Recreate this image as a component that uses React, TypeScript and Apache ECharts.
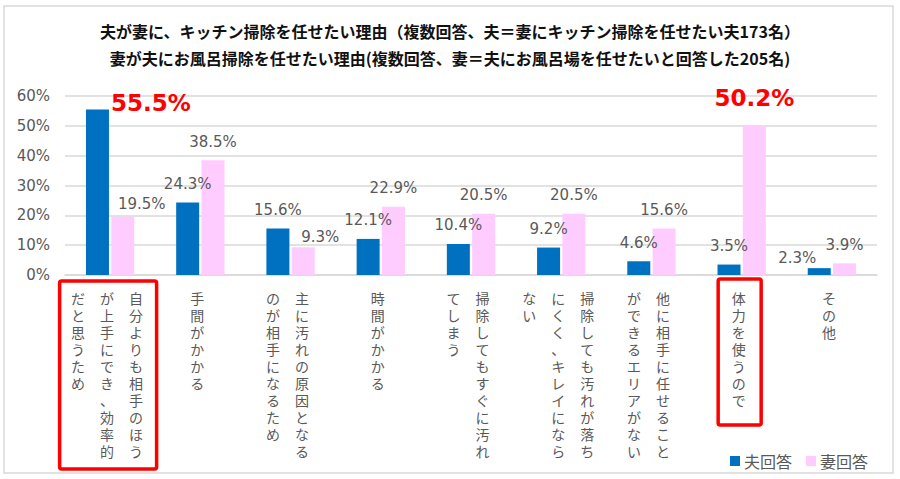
import React, { useEffect, useRef } from "react";
import * as echarts from "echarts";

const titleLines = [
  "夫が妻に、キッチン掃除を任せたい理由（複数回答、夫＝妻にキッチン掃除を任せたい夫173名）",
  "妻が夫にお風呂掃除を任せたい理由(複数回答、妻＝夫にお風呂場を任せたいと回答した205名)",
];

// each category: vertical columns, read right-to-left
const categoryColumns: string[][] = [
  ["自分よりも相手のほう", "が上手にでき、効率的", "だと思うため"],
  ["手間がかかる"],
  ["主に汚れの原因となる", "のが相手になるため"],
  ["時間がかかる"],
  ["掃除してもすぐに汚れ", "てしまう"],
  ["掃除しても汚れが落ち", "にくく、キレイになら", "ない"],
  ["他に相手に任せること", "ができるエリアがない"],
  ["体力を使うので"],
  ["その他"],
];

const seriesNames = ["夫回答", "妻回答"];
const husbandValues = [55.5, 24.3, 15.6, 12.1, 10.4, 9.2, 4.6, 3.5, 2.3];
const wifeValues = [19.5, 38.5, 9.3, 22.9, 20.5, 20.5, 15.6, 50.2, 3.9];
const yTicks = { min: 0, max: 60, interval: 10 };

const highlightHusband = 0;
const highlightWife = 7;
const boxedCategories = [0, 7];

const FONT = "'Noto Sans CJK JP', 'Noto Sans', sans-serif";
const LABELFONT = "'Liberation Sans', 'Noto Sans CJK JP', sans-serif";
const NUMFONT = "'DejaVu Sans', sans-serif";
const GRAY = "#595959";

const categoryKeys = categoryColumns.map((c) => c.join(""));

export default function App() {
  const ref = useRef<HTMLDivElement>(null);
  useEffect(() => {
    document.body.style.margin = "0";
    if (!ref.current) return;
    const chart = echarts.init(ref.current, undefined, { renderer: "svg" });

    const labelOffsets: Record<string, number[]> = {
      "w0": [19, 6],
      "w2": [17, 8],
      "h8": [-22, 8],
    };

    const husbandData = husbandValues.map((v, i) => {
      if (i === highlightHusband) {
        return {
          value: v,
          label: {
            position: ["100%", 0],
            align: "left",
            verticalAlign: "middle",
            offset: [2, -6],
            color: "#FF0000",
            fontSize: 23,
            fontWeight: "bold",
            fontFamily: NUMFONT,
          },
        };
      }
      const off = labelOffsets["h" + i];
      return off ? { value: v, label: { offset: off } } : v;
    });
    const wifeData = wifeValues.map((v, i) => {
      if (i === highlightWife) {
        return {
          value: v,
          label: {
            distance: 16,
            color: "#FF0000",
            fontSize: 23,
            fontWeight: "bold",
            fontFamily: NUMFONT,
          },
        };
      }
      const off = labelOffsets["w" + i];
      return off ? { value: v, label: { offset: off } } : v;
    });

    const valueLabel = {
      show: true,
      position: "top",
      distance: 11,
      color: GRAY,
      fontSize: 15,
      fontFamily: NUMFONT,
      formatter: (p: any) => `${p.value.toFixed(1)}%`,
    };

    chart.setOption({
      animation: false,
      textStyle: { fontFamily: FONT },
      title: {
        text: titleLines.join("\n"),
        left: "center",
        top: 12,
        textStyle: {
          fontSize: 16,
          fontWeight: "bold",
          color: "#111",
          lineHeight: 27,
          fontFamily: FONT,
        },
      },
      legend: {
        data: seriesNames,
        right: 27,
        top: 448,
        itemWidth: 10,
        itemHeight: 10,
        itemGap: 14,
        icon: "rect",
        textStyle: { color: GRAY, fontSize: 16, fontFamily: FONT, padding: [0, 0, 0, -1] },
      },
      grid: { left: 65, right: 23, top: 96, bottom: 204, containLabel: false },
      xAxis: {
        type: "category",
        data: categoryKeys,
        axisTick: { show: false },
        axisLine: { lineStyle: { color: "#d9d9d9", width: 1.5 } },
        axisLabel: { show: false },
      },
      yAxis: {
        type: "value",
        min: yTicks.min,
        max: yTicks.max,
        interval: yTicks.interval,
        axisLine: { show: false },
        axisTick: { show: false },
        splitLine: { lineStyle: { color: "#d9d9d9", width: 1.5 } },
        axisLabel: {
          formatter: "{value}%",
          color: GRAY,
          fontSize: 15,
          fontFamily: NUMFONT,
          margin: 15,
        },
      },
      series: [
        {
          name: seriesNames[0],
          type: "bar",
          data: husbandData,
          barWidth: 23,
          barGap: "10%",
          itemStyle: { color: "#0070C0" },
          label: valueLabel,
        },
        {
          name: seriesNames[1],
          type: "bar",
          data: wifeData,
          barWidth: 23,
          barGap: "10%",
          itemStyle: { color: "#FFCCFF" },
          label: valueLabel,
        },
      ],
    });

    const axisY = chart.convertToPixel({ yAxisIndex: 0 }, 0) as number;
    const colPitch = 29;
    const labelTexts: any[] = [];
    categoryColumns.forEach((cols, ci) => {
      const cx = chart.convertToPixel({ xAxisIndex: 0 }, categoryKeys[ci]) as number;
      const n = cols.length;
      cols.forEach((col, k) => {
        labelTexts.push({
          type: "text",
          x: cx - 3 + ((n - 1) / 2 - k) * colPitch,
          y: axisY + 15,
          style: {
            text: Array.from(col).join("\n"),
            fill: GRAY,
            font: `14px ${LABELFONT}`,
            lineHeight: 17,
            align: "center",
            verticalAlign: "top",
          },
          silent: true,
        });
      });
    });

    const boxSpecs = [
      { w: 97, top: 281, h: 188 },
      { w: 43, top: 279, h: 146 },
    ];
    const boxes = boxedCategories.map((ci, k) => {
      const cx = chart.convertToPixel({ xAxisIndex: 0 }, categoryKeys[ci]) as number;
      const s = boxSpecs[k];
      return {
        type: "rect",
        shape: { x: cx - 2 - s.w / 2, y: s.top, width: s.w, height: s.h, r: 2 },
        style: { fill: "none", stroke: "#FF0000", lineWidth: 3.5 },
        z: 10,
      };
    });

    chart.setOption({
      graphic: [
        {
          type: "rect",
          shape: { x: 4, y: 6, width: 889, height: 467 },
          style: { fill: "none", stroke: "#d9d9d9", lineWidth: 1.5 },
          silent: true,
        },
        ...labelTexts,
        ...boxes,
      ],
    });

    return () => chart.dispose();
  }, []);
  return <div ref={ref} style={{ width: 900, height: 479 }} />;
}
